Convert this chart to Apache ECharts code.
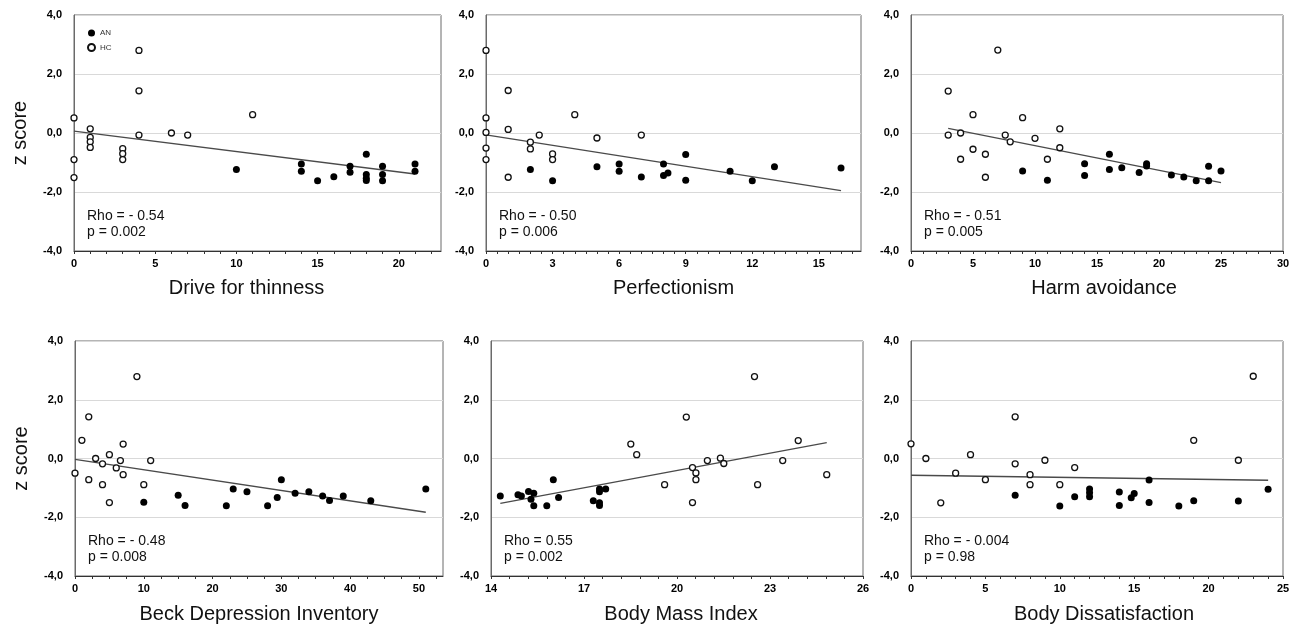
<!DOCTYPE html>
<html>
<head>
    <meta charset="utf-8">
    <title>z score correlations</title>
    <script src="https://cdn.jsdelivr.net/npm/echarts@6/dist/echarts.min.js"></script>
    <style>
        html, body { margin: 0; padding: 0; background: #fff; }
        #chart { width: 1304px; height: 629px; }
    </style>
</head>
<body>
<div id="chart"></div>
<script type="text/javascript">
// ---- data: [x, z score] ----
var dftHC = [[0,0.51],[0,-0.90],[0,-1.51],[1,0.14],[1,-0.15],[1,-0.30],[1,-0.49],[3,-0.53],[3,-0.70],[3,-0.90],
             [4,2.80],[4,1.43],[4,-0.07],[6,0.0],[7,-0.07],[11,0.62]];
var dftAN = [[10,-1.24],[14,-1.05],[14,-1.30],[15,-1.62],[16,-1.48],[17,-1.13],[17,-1.33],[18,-0.72],[18,-1.41],
             [18,-1.53],[18,-1.61],[19,-1.13],[19,-1.41],[19,-1.62],[21,-1.05],[21,-1.30]];
var dftFit = [[0,0.06],[21,-1.39]];

var perfHC = [[0,2.80],[0,0.51],[0,0.02],[0,-0.51],[0,-0.90],[1,1.44],[1,0.12],[1,-1.50],[2,-0.31],[2,-0.54],
              [2.4,-0.07],[3,-0.71],[3,-0.90],[4,0.62],[5,-0.17],[7,-0.07]];
var perfAN = [[2,-1.24],[3,-1.62],[5,-1.14],[6,-1.05],[6,-1.30],[7,-1.49],[8,-1.05],[8,-1.44],[8.2,-1.36],
              [9,-0.73],[9,-1.60],[11,-1.30],[12,-1.62],[13,-1.14],[16,-1.19]];
var perfFit = [[0,-0.06],[16,-1.95]];

var harmHC = [[3,-0.07],[3,1.42],[4,0.0],[4,-0.89],[5,0.62],[5,-0.55],[6,-0.72],[6,-1.50],[7,2.81],[7.6,-0.07],
              [8,-0.30],[9,0.52],[10,-0.18],[11,-0.89],[12,0.14],[12,-0.50]];
var harmAN = [[9,-1.29],[11,-1.60],[14,-1.04],[14,-1.44],[16,-0.72],[16,-1.24],[17,-1.18],[18.4,-1.34],[19,-1.04],
              [19,-1.12],[21,-1.42],[22,-1.49],[23,-1.62],[24,-1.13],[24,-1.62],[25,-1.29]];
var harmFit = [[3,0.16],[25,-1.68]];

var bdiHC = [[0,-0.50],[1,0.62],[2,1.42],[2,-0.72],[3,0.0],[4,-0.18],[4,-0.89],[5,0.13],[5,-1.50],[6,-0.32],
             [6.6,-0.07],[7,0.49],[7,-0.55],[9,2.79],[10,-0.89],[11,-0.07]];
var bdiAN = [[10,-1.49],[15,-1.25],[16,-1.60],[22,-1.61],[23,-1.04],[25,-1.13],[28,-1.61],[29.4,-1.33],[30,-0.72],
             [32,-1.18],[34,-1.13],[36,-1.28],[37,-1.43],[39,-1.28],[43,-1.44],[51,-1.04]];
var bdiFit = [[0,-0.03],[51,-1.83]];

var bmiHC = [[18.51,0.49],[18.7,0.13],[19.6,-0.89],[20.3,1.41],[20.5,-0.31],[20.61,-0.49],[20.61,-0.72],[20.5,-1.50],
             [20.98,-0.07],[21.4,0.01],[21.51,-0.17],[22.5,2.79],[22.6,-0.89],[23.41,-0.07],[23.91,0.61],[24.83,-0.55]];
var bmiAN = [[14.3,-1.28],[14.87,-1.23],[14.98,-1.28],[15.21,-1.12],[15.29,-1.39],[15.38,-1.18],[15.38,-1.61],
             [15.8,-1.61],[16.01,-0.72],[16.18,-1.33],[17.3,-1.44],[17.5,-1.04],[17.5,-1.13],[17.5,-1.51],[17.5,-1.60],[17.7,-1.04]];
var bmiFit = [[14.3,-1.53],[24.83,0.54]];

var bdHC = [[0,0.50],[1,0.0],[2,-1.51],[3,-0.50],[4,0.13],[5,-0.72],[7,1.42],[7,-0.18],[8,-0.55],[8,-0.89],
            [9,-0.06],[10,-0.89],[11,-0.31],[19,0.62],[22,-0.06],[23,2.80]];
var bdAN = [[7,-1.25],[10,-1.62],[11,-1.30],[12,-1.04],[12,-1.17],[12,-1.30],[14,-1.14],[14,-1.60],[14.8,-1.34],
            [15,-1.19],[16,-0.73],[16,-1.50],[18,-1.62],[19,-1.44],[22,-1.45],[24,-1.05]];
var bdFit = [[0,-0.57],[24,-0.74]];

// ---- axes / labels ----
var axisTitles = ['Drive for thinness', 'Perfectionism', 'Harm avoidance',
                  'Beck Depression Inventory', 'Body Mass Index', 'Body Dissatisfaction'];
var xLabelValues = [[0,5,10,15,20], [0,3,6,9,12,15], [0,5,10,15,20,25,30],
                    [0,10,20,30,40,50], [14,17,20,23,26], [0,5,10,15,20,25]];
var xRanges = [[0,22.6], [0,16.9], [0,30], [0,53.5], [14,26], [0,25]];
var xTickSteps = [1, 0.5, 1, 2.5, 0.6, 1];
var rhoTexts = ['Rho = - 0.54\np = 0.002', 'Rho = - 0.50\np = 0.006', 'Rho = - 0.51\np = 0.005',
                'Rho = - 0.48\np = 0.008', 'Rho = 0.55\np = 0.002', 'Rho = - 0.004\np = 0.98'];
var yTicks = [-4, -2, 0, 2, 4];

var hcSets = [dftHC, perfHC, harmHC, bdiHC, bmiHC, bdHC];
var anSets = [dftAN, perfAN, harmAN, bdiAN, bmiAN, bdAN];
var fitSets = [dftFit, perfFit, harmFit, bdiFit, bmiFit, bdFit];

// grid boxes in px: [left, top, width, height]
var boxes = [[74,15,367,236], [486,15,375,236], [911,15,372,236],
             [75,341,368,235], [491,341,372,235], [911,341,372,235]];
// small nudges so the axis titles sit where the original put them
var titlePads = [[0,22,0,0], [0,0,0,0], [0,0,0,14], [0,0,0,0], [0,0,0,8], [0,0,0,14]];

function tickList(range, step) {
    var out = [];
    for (var i = 0; range[0] + i * step <= range[1] + 1e-9; i++) {
        out.push(Math.round((range[0] + i * step) * 100) / 100);
    }
    return out;
}

var grids = [], xAxes = [], yAxes = [], series = [], graphics = [];
for (var i = 0; i < 6; i++) {
    var b = boxes[i];
    grids.push({
        left: b[0], top: b[1], width: b[2], height: b[3],
        show: true, borderColor: '#6a6a6a', borderWidth: 1, backgroundColor: '#fff'
    });
    xAxes.push({
        type: 'value', gridIndex: i, min: xRanges[i][0], max: xRanges[i][1],
        name: axisTitles[i], nameLocation: 'middle', nameGap: i < 3 ? 27 : 28,
        nameTextStyle: { fontFamily: 'Liberation Sans', fontSize: 20, color: '#111', padding: titlePads[i] },
        axisLine: { show: true, onZero: false, lineStyle: { color: '#333', width: 1 } },
        axisTick: { show: true, length: 3, customValues: tickList(xRanges[i], xTickSteps[i]),
                    lineStyle: { color: '#333' } },
        axisLabel: { customValues: xLabelValues[i], fontFamily: 'Liberation Sans', fontSize: 11,
                     fontWeight: 'bold', color: '#000', margin: 7 },
        splitLine: { show: false }
    });
    yAxes.push({
        type: 'value', gridIndex: i, min: -4, max: 4, interval: 2,
        name: (i === 0 || i === 3) ? 'z score' : '',
        nameLocation: 'middle', nameGap: 44,
        nameTextStyle: { fontFamily: 'Liberation Sans', fontSize: 20, color: '#111' },
        axisLine: { show: true, onZero: false, lineStyle: { color: '#6a6a6a' } },
        axisTick: { show: false },
        axisLabel: {
            customValues: yTicks, fontFamily: 'Liberation Sans', fontSize: 11, fontWeight: 'bold',
            color: '#000', margin: 12,
            formatter: function (v) { return v.toFixed(1).replace('.', ','); }
        },
        splitLine: { show: true, lineStyle: { color: '#d9d9d9', width: 1.2 } }
    });
    series.push({
        type: 'line', name: 'fit', xAxisIndex: i, yAxisIndex: i, data: fitSets[i],
        symbol: 'none', silent: true, z: 1,
        lineStyle: { color: '#4a4a4a', width: 1.3 }
    });
    series.push({
        type: 'scatter', name: 'AN', xAxisIndex: i, yAxisIndex: i, data: anSets[i],
        symbol: 'circle', symbolSize: 7, z: 3,
        itemStyle: { color: '#000', opacity: 1 }
    });
    series.push({
        type: 'scatter', name: 'HC', xAxisIndex: i, yAxisIndex: i, data: hcSets[i],
        symbol: 'circle', symbolSize: 6, z: 3,
        itemStyle: { color: '#fff', borderColor: '#111', borderWidth: 1.3, opacity: 1 }
    });
    graphics.push({
        type: 'text', left: b[0] + 13, top: b[1] + b[3] - 43, z: 10,
        style: { text: rhoTexts[i], font: '14px "Liberation Sans"', fill: '#111', lineHeight: 16 }
    });
}

var myChart = echarts.init(document.getElementById('chart'), null, { renderer: 'canvas' });
myChart.setOption({
    animation: false,
    backgroundColor: '#fff',
    grid: grids,
    xAxis: xAxes,
    yAxis: yAxes,
    series: series,
    graphic: graphics,
    legend: {
        data: ['AN', 'HC'], orient: 'vertical', left: 82, top: 24,
        itemWidth: 7, itemHeight: 7, itemGap: 6,
        textStyle: { fontFamily: 'Liberation Sans', fontSize: 8, color: '#333' }
    }
});
</script>
</body>
</html>
